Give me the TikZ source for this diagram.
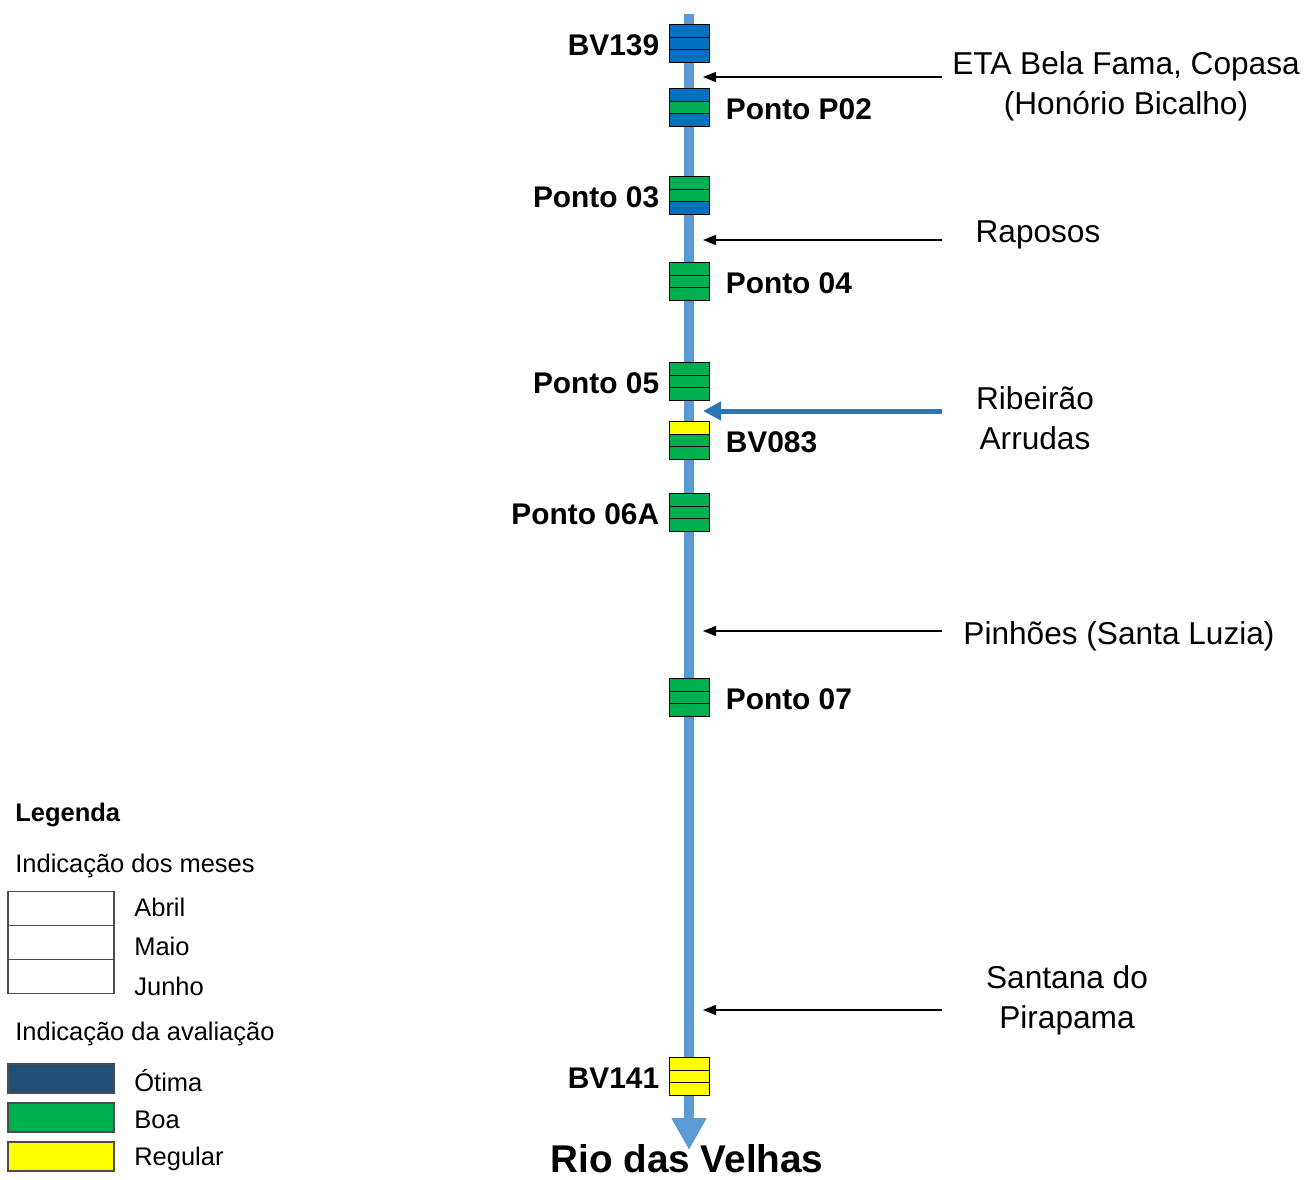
\documentclass[tikz,border=0pt]{standalone}
\usepackage{fontspec}
\setmainfont{Liberation Sans}
\usepackage{xcolor}
\usepackage{tikz}
\usetikzlibrary{arrows.meta,positioning}
\definecolor{azul}{HTML}{0070C0}
\definecolor{verde}{HTML}{00B050}
\definecolor{amarelo}{HTML}{FFFF00}
\definecolor{marinho}{HTML}{1F4E79}
\definecolor{rio}{HTML}{5B9BD5}
\definecolor{afluente}{HTML}{2E75B6}

\begin{document}
\begin{tikzpicture}[x=0.02cm,y=-0.02cm,
    mes/.style={draw,line width=0.6pt,minimum width=0.8cm,minimum height=0.248cm,inner sep=0pt,outer sep=0pt},
    ponto/.style={font=\fontsize{17}{20}\selectfont\bfseries,inner sep=0pt,yshift=-0.04cm},
    local/.style={font=\fontsize{18}{22.7}\selectfont,align=center,inner sep=0pt,yshift=-0.07cm},
    seta/.style={line width=0.6pt,-{Triangle[length=0.26cm,width=0.2cm]}},
    legbox/.style={draw=black!70,line width=0.6pt,minimum width=2.12cm,inner sep=0pt,outer sep=0pt},
    leg/.style={font=\fontsize{14.5}{17}\selectfont,anchor=west,inner sep=0pt,yshift=-0.03cm}]
    \useasboundingbox (0,0) rectangle (1309,1180);

    \coordinate (nascente) at (689,14);
    \coordinate (foz) at (689,1150);
    \draw[rio,line width=0.2cm,-{Triangle[length=0.64cm,width=0.66cm]}] (nascente) -- (foz);
    \node[font=\fontsize{22}{26}\selectfont\bfseries,inner sep=0pt] (rionome) at (687,1159) {Rio das Velhas};

    \foreach \nome/\y/\ca/\cb/\cc in {bv139/43.5/azul/azul/azul, p02/107.5/azul/verde/azul,
        p03/195.5/verde/verde/azul, p04/281.5/verde/verde/verde, p05/381.5/verde/verde/verde,
        bv083/440.5/amarelo/verde/verde, p06a/512.5/verde/verde/verde,
        p07/697.5/verde/verde/verde, bv141/1076.5/amarelo/amarelo/amarelo}{
      \node[mes,fill=\ca] (\nome-1) at (689.5,{\y-12.4}) {};
      \node[mes,fill=\cb] (\nome-2) at (689.5,\y) {};
      \node[mes,fill=\cc] (\nome-3) at (689.5,{\y+12.4}) {};
    }

    \node[ponto,left=0.2cm of bv139-2] (lbv139) {BV139};
    \node[ponto,right=0.32cm of p02-2] (lp02) {Ponto P02};
    \node[ponto,left=0.2cm of p03-2] (lp03) {Ponto 03};
    \node[ponto,right=0.32cm of p04-2] (lp04) {Ponto 04};
    \node[ponto,left=0.2cm of p05-2] (lp05) {Ponto 05};
    \node[ponto,right=0.32cm of bv083-2] (lbv083) {BV083};
    \node[ponto,left=0.2cm of p06a-2] (lp06a) {Ponto 06A};
    \node[ponto,right=0.32cm of p07-2] (lp07) {Ponto 07};
    \node[ponto,left=0.2cm of bv141-2] (lbv141) {BV141};

    \node[local] (eta) at (1126,83) {ETA Bela Fama, Copasa\\(Honório Bicalho)};
    \node[local] (raposos) at (1038,231) {Raposos};
    \node[local] (arrudas) at (1035,415) {Ribeirão\\Arrudas};
    \node[local] (pinhoes) at (1119,633) {Pinhões (Santa Luzia)};
    \node[local] (santana) at (1067,997) {Santana do\\Pirapama};

    \coordinate (eta-s) at (942,77);
    \coordinate (eta-r) at (703,77);
    \coordinate (raposos-s) at (942,240);
    \coordinate (raposos-r) at (703,240);
    \coordinate (arrudas-s) at (942,411);
    \coordinate (arrudas-r) at (703,411);
    \coordinate (pinhoes-s) at (942,631);
    \coordinate (pinhoes-r) at (703,631);
    \coordinate (santana-s) at (942,1010);
    \coordinate (santana-r) at (703,1010);
    \draw[seta] (eta-s) -- (eta-r);
    \draw[seta] (raposos-s) -- (raposos-r);
    \draw[afluente,line width=0.1cm,-{Triangle[length=0.36cm,width=0.36cm]}] (arrudas-s) -- (arrudas-r);
    \draw[seta] (pinhoes-s) -- (pinhoes-r);
    \draw[seta] (santana-s) -- (santana-r);

    \node[leg,font=\fontsize{14.5}{17}\selectfont\bfseries] (legenda) at (15,813) {Legenda};
    \node[leg] (meses) at (15,864) {Indicação dos meses};
    \node[legbox,minimum height=0.686cm] (abril) at (61,908.2) {};
    \node[legbox,minimum height=0.686cm] (maio) at (61,942.5) {};
    \node[legbox,minimum height=0.686cm] (junho) at (61,976.8) {};
    \node[leg] (labril) at (134,906) {Abril};
    \node[leg] (lmaio) at (134,945) {Maio};
    \node[leg] (ljunho) at (134,985) {Junho};
    \node[leg] (avaliacao) at (15,1032) {Indicação da avaliação};
    \node[legbox,fill=marinho,minimum height=0.58cm] (otima) at (61,1078.5) {};
    \node[legbox,fill=verde,minimum height=0.58cm] (boa) at (61,1117.5) {};
    \node[legbox,fill=amarelo,minimum height=0.58cm] (regular) at (61,1156.5) {};
    \node[leg] (lotima) at (134,1079) {Ótima};
    \node[leg] (lboa) at (134,1118) {Boa};
    \node[leg] (lregular) at (134,1157) {Regular};
\end{tikzpicture}
\end{document}
